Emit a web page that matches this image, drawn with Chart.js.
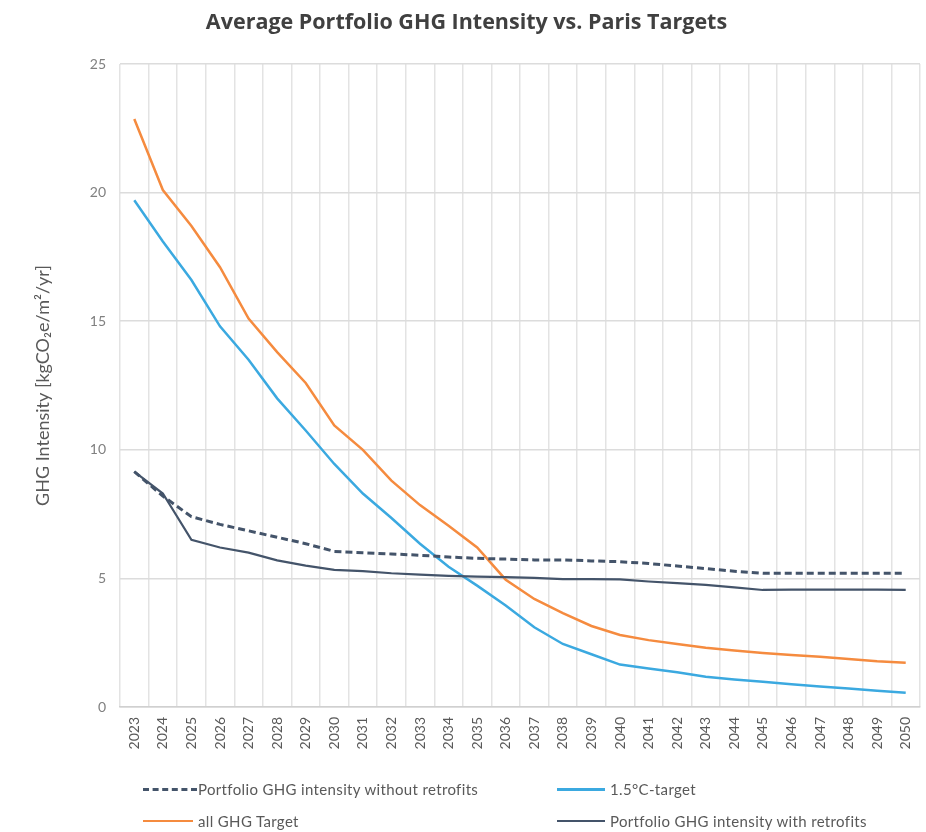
<!DOCTYPE html>
<html>
<head>
<meta charset="utf-8">
<script src="https://cdn.jsdelivr.net/npm/chart.js@4"></script>
<style>
  body { margin: 0; background: #fff; }
  #wrap { position: relative; width: 926px; height: 832px; }
  #title { position: absolute; top: 6px; left: 0; width: 933px; text-align: center;
    font-family: "Open Sans", sans-serif; font-weight: bold; font-size: 21.5px; color: #404040; }
  .leg { position: absolute; font-family: Lato, sans-serif; font-size: 15px; letter-spacing: 0.35px;
    color: #595959; white-space: nowrap; line-height: 18px; }
  .leg .ln { position: absolute; top: 8px; height: 0; }
  .leg .tx { position: absolute; left: 55px; top: 0; }
</style>
</head>
<body>
<div id="wrap">
  <canvas id="canvas" width="926" height="832"></canvas>
  <div id="title">Average Portfolio GHG Intensity vs. Paris Targets</div>
  <div class="leg" style="left:143px;top:780px"><div class="ln" style="width:54px;border-top:3px dashed #44546A"></div><div class="tx">Portfolio GHG intensity without retrofits</div></div>
  <div class="leg" style="left:557px;top:780px"><div class="ln" style="width:48px;border-top:3px solid #3BA9E0"></div><div class="tx" style="left:53px">1.5°C-target</div></div>
  <div class="leg" style="left:143px;top:812px"><div class="ln" style="width:50px;border-top:2px solid #F58B3F"></div><div class="tx">all GHG Target</div></div>
  <div class="leg" style="left:557px;top:812px"><div class="ln" style="width:48px;border-top:2px solid #44546A"></div><div class="tx" style="left:53px">Portfolio GHG intensity with retrofits</div></div>
</div>
<script>
// years on the x axis
var years = ['2023','2024','2025','2026','2027','2028','2029','2030','2031','2032','2033','2034','2035','2036',
  '2037','2038','2039','2040','2041','2042','2043','2044','2045','2046','2047','2048','2049','2050'];

var withoutRetrofits = [9.15, 8.2, 7.4, 7.1, 6.85, 6.6, 6.35, 6.05, 6.0, 5.95, 5.9, 5.83, 5.78, 5.75,
  5.72, 5.72, 5.68, 5.65, 5.58, 5.48, 5.38, 5.28, 5.2, 5.2, 5.2, 5.2, 5.2, 5.2];

var target15 = [19.7, 18.1, 16.6, 14.8, 13.5, 12.0, 10.75, 9.45, 8.3, 7.35, 6.35, 5.45, 4.72, 3.95,
  3.1, 2.45, 2.05, 1.65, 1.5, 1.35, 1.18, 1.07, 0.98, 0.88, 0.8, 0.72, 0.63, 0.55];

var allGhgTarget = [22.86, 20.1, 18.7, 17.1, 15.1, 13.8, 12.6, 10.95, 10.0, 8.8, 7.85, 7.05, 6.2, 4.95,
  4.2, 3.65, 3.15, 2.8, 2.6, 2.45, 2.3, 2.2, 2.1, 2.02, 1.95, 1.87, 1.78, 1.72];

var withRetrofits = [9.15, 8.3, 6.5, 6.2, 6.0, 5.7, 5.5, 5.33, 5.28, 5.2, 5.15, 5.1, 5.07, 5.05,
  5.02, 4.97, 4.97, 4.96, 4.88, 4.82, 4.75, 4.65, 4.55, 4.56, 4.56, 4.56, 4.56, 4.55];

var yTicks = [0, 5, 10, 15, 20, 25];

var ctx = document.getElementById('canvas');
var myChart = new Chart(ctx, {
  type: 'line',
  data: {
    labels: years,
    datasets: [{
      label: 'Portfolio GHG intensity with retrofits',
      data: withRetrofits,
      borderColor: '#44546A',
      borderWidth: 2.2
    }, {
      label: 'Portfolio GHG intensity without retrofits',
      data: withoutRetrofits,
      borderColor: '#44546A',
      borderWidth: 3,
      borderDash: [7, 4]
    }, {
      label: 'all GHG Target',
      data: allGhgTarget,
      borderColor: '#F58B3F',
      borderWidth: 2.5
    }, {
      label: '1.5°C-target',
      data: target15,
      borderColor: '#3BA9E0',
      borderWidth: 2.5
    }]
  },
  options: {
    responsive: false,
    animation: false,
    elements: { point: { radius: 0 }, line: { tension: 0 } },
    layout: { padding: { top: 64, left: 0, right: 6, bottom: 0 } },
    plugins: {
      legend: { display: false },
      title: { display: false },
      tooltip: { enabled: false }
    },
    scales: {
      x: {
        offset: true,
        grid: { offset: true, color: '#e3e3e3', lineWidth: 1.5, drawTicks: false },
        border: { color: '#d0d0d0', width: 1.5 },
        ticks: {
          autoSkip: false, maxRotation: 90, minRotation: 90, padding: 10,
          color: '#595959', font: { family: 'Lato', size: 14 }
        },
        afterFit: function (scale) {
          scale.height = 125;
          scale.paddingLeft = 0;
          scale.paddingRight = 0;
        }
      },
      y: {
        min: 0, max: 25,
        afterBuildTicks: function (scale) {
          scale.ticks = yTicks.map(function (v) { return { value: v }; });
        },
        grid: { color: '#dcdcdc', lineWidth: 1.5, drawTicks: false },
        border: { display: false },
        ticks: { padding: 14, color: '#808080', font: { family: 'Lato', size: 14 } },
        title: {
          display: true,
          text: 'GHG Intensity [kgCO₂e/m²/yr]',
          color: '#595959',
          font: { family: 'Lato', size: 18 },
          padding: { top: 32, bottom: 0 }
        },
        afterFit: function (scale) { scale.width = 120; }
      }
    }
  }
});
</script>
</body>
</html>
